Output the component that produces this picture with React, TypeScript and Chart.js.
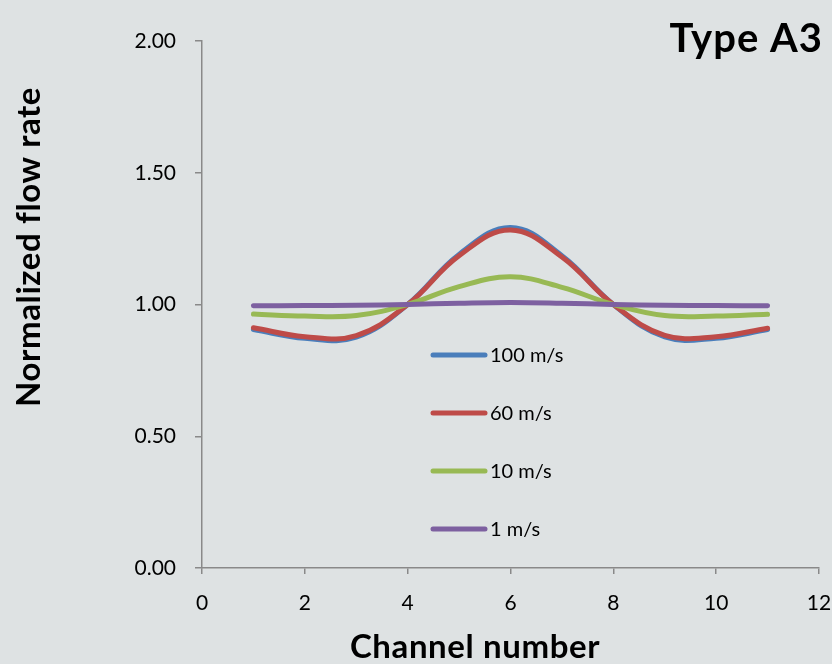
import React, { useEffect, useRef } from "react";
import { Chart, registerables } from "chart.js";

Chart.register(...registerables);

const channels = [1, 2, 3, 4, 5, 6, 7, 8, 9, 10, 11];
const seriesNames = ["100 m/s", "60 m/s", "10 m/s", "1 m/s"];
const v100 = [0.905, 0.872, 0.876, 1.0, 1.19, 1.292, 1.185, 1.0, 0.877, 0.872, 0.905];
const v60 = [0.912, 0.878, 0.882, 1.0, 1.185, 1.283, 1.18, 1.0, 0.883, 0.878, 0.91];
const v10 = [0.964, 0.956, 0.958, 1.0, 1.068, 1.105, 1.065, 1.0, 0.958, 0.956, 0.963];
const v1 = [0.995, 0.996, 0.997, 1.0, 1.005, 1.008, 1.005, 1.0, 0.997, 0.996, 0.995];
const colors = ["#4a7ebb", "#be4b48", "#98b954", "#7d60a0"];
const xTicks = [0, 2, 4, 6, 8, 10, 12];
const yTicks = [0, 0.5, 1.0, 1.5, 2.0];
const chartTitle = "Type A3";
const xTitle = "Channel number";
const yTitle = "Normalized flow rate";

const BG = "#dee2e3";
const FONT = "Lato, 'Open Sans', sans-serif";

const overlayPlugin = {
  id: "overlay",
  afterDraw(chart: any) {
    const ctx = chart.ctx as any;
    ctx.save();
    ctx.fillStyle = "#000";
    // title
    ctx.letterSpacing = "1px";
    ctx.font = `bold 40px ${FONT}`;
    ctx.textAlign = "right";
    ctx.textBaseline = "middle";
    ctx.fillText(chartTitle, 823, 39);
    // x title
    ctx.letterSpacing = "0.6px";
    ctx.font = `bold 33px ${FONT}`;
    ctx.textAlign = "center";
    ctx.fillText(xTitle, 475, 647);
    // y title
    ctx.save();
    ctx.translate(29, 247);
    ctx.rotate(-Math.PI / 2);
    ctx.fillText(yTitle, 0, 0);
    ctx.restore();
    ctx.letterSpacing = "0px";
    // legend
    ctx.font = `20px ${FONT}`;
    ctx.textAlign = "left";
    chart.data.datasets.forEach((ds: any, i: number) => {
      const y = 355 + i * 58;
      ctx.strokeStyle = ds.borderColor;
      ctx.lineWidth = 5;
      ctx.lineCap = "round";
      ctx.beginPath();
      ctx.moveTo(433, y);
      ctx.lineTo(485, y);
      ctx.stroke();
      ctx.fillStyle = "#000";
      ctx.fillText(ds.label, 490, y + 1);
    });
    ctx.restore();
  },
};

export default function App() {
  const ref = useRef<HTMLCanvasElement>(null);
  useEffect(() => {
    if (!ref.current) return;
    const vals = [v100, v60, v10, v1];
    const chart = new Chart(ref.current, {
      type: "line",
      data: {
        datasets: vals.map((v, i) => ({
          label: seriesNames[i],
          data: channels.map((c, j) => ({ x: c, y: v[j] })),
          borderColor: colors[i],
          backgroundColor: colors[i],
          borderWidth: 5,
          pointRadius: 0,
          tension: 0.4,
          borderCapStyle: "round" as const,
          order: 3 - i,
        })),
      },
      options: {
        responsive: false,
        animation: false,
        layout: { padding: { left: 0, top: 41, right: 13, bottom: 0 } },
        plugins: { legend: { display: false }, tooltip: { enabled: false }, title: { display: false } },
        scales: {
          x: {
            type: "linear",
            min: 0,
            max: 12,
            afterBuildTicks: (s: any) => {
              s.ticks = xTicks.map((v) => ({ value: v }));
            },
            afterFit: (s: any) => {
              s.height = 96;
              s.paddingRight = 0;
              s.paddingLeft = 0;
            },
            ticks: { color: "#000", font: { family: FONT, size: 21 }, padding: 17, maxRotation: 0 },
            grid: { display: true, drawOnChartArea: false, drawTicks: true, tickLength: 6, color: "#898989", lineWidth: 1.5 },
            border: { color: "#898989", width: 1.5 },
          },
          y: {
            type: "linear",
            min: 0,
            max: 2,
            afterBuildTicks: (s: any) => {
              s.ticks = yTicks.map((v) => ({ value: v }));
            },
            afterFit: (s: any) => {
              s.width = 202;
            },
            ticks: {
              color: "#000",
              font: { family: FONT, size: 21 },
              padding: 19,
              callback: (v: any) => Number(v).toFixed(2),
            },
            grid: { display: true, drawOnChartArea: false, drawTicks: true, tickLength: 7, color: "#898989", lineWidth: 1.5 },
            border: { color: "#898989", width: 1.5 },
          },
        },
      },
      plugins: [overlayPlugin],
    });
    return () => chart.destroy();
  }, []);
  return (
    <div style={{ position: "fixed", left: 0, top: 0, width: 832, height: 664, background: BG }}>
      <canvas ref={ref} width={832} height={664} style={{ display: "block", width: 832, height: 664 }} />
    </div>
  );
}
